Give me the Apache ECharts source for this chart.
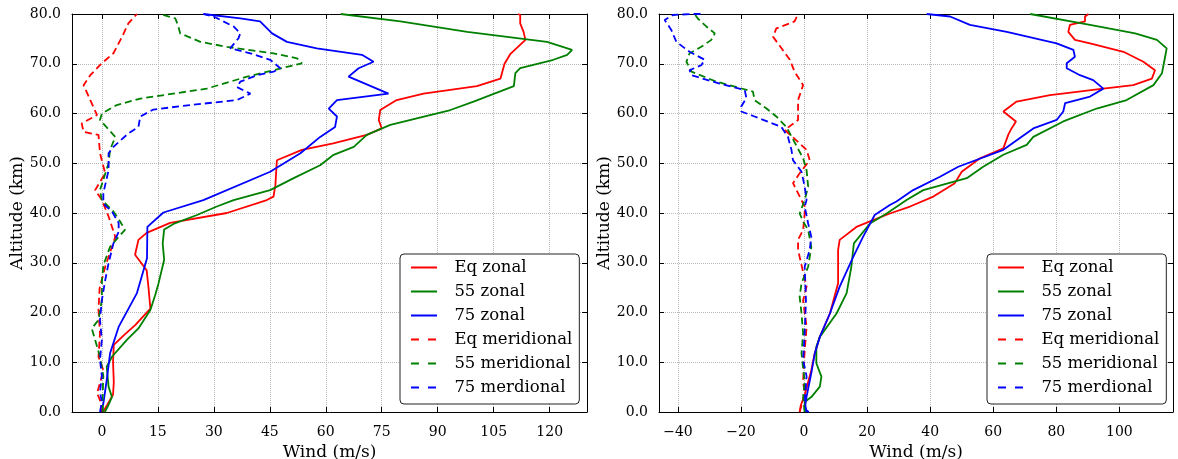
<!DOCTYPE html>
<html><head><meta charset="utf-8">
<script src="https://cdn.jsdelivr.net/npm/echarts@6/dist/echarts.min.js"></script>
<style>html,body{margin:0;padding:0;background:#fff}#c{width:1178px;height:459px}</style>
</head><body><div id="c"></div>
<script>
// ---------- data (wind m/s, altitude km) ----------
const seriesNames = ['Eq zonal', '55 zonal', '75 zonal', 'Eq meridional', '55 meridional', '75 merdional'];
const altTicks = [0, 10, 20, 30, 40, 50, 60, 70, 80];
const leftWindTicks = [0, 15, 30, 45, 60, 75, 90, 105, 120];
const rightWindTicks = [-40, -20, 0, 20, 40, 60, 80, 100];

// left panel
const L_eqZonal = [[0.3,0],[1.5,1.5],[3.0,3.5],[3.2,6],[3.0,10],[3.2,13.5],[6,15.5],[9,17.5],[13,20.8],[12.5,25],[12,28.5],[8.9,31.6],[9.8,34.6],[12,36],[18.3,38],[33.5,40],[44.2,42.6],[46,43.3],[46.5,45.6],[46.9,50.6],[53.6,52.7],[62,54],[71,55.7],[75,57],[74.2,58.7],[74.6,60.7],[79,62.7],[86.2,64],[100.5,65.5],[106.8,67],[107.9,70],[109.5,72],[113.5,74.8],[113,76.4],[112.1,78.1],[112.1,79.8],[111.5,80]];
const L_55Zonal = [[0.8,0],[1.5,1],[2.7,3],[1.8,5.1],[1.3,9.1],[2.7,11.1],[6.7,14.5],[9.8,16.8],[13,20.5],[14.3,23.5],[15.2,25.9],[16.7,30.6],[16.3,33.9],[16.7,36.7],[19.2,37.8],[25.5,39.6],[30.8,41.3],[35.3,42.6],[45.1,44.6],[51.4,47],[58.5,49.6],[62.1,51.7],[67.5,53.3],[71,55.7],[77.3,57.7],[93.4,60.7],[99.6,62.4],[110.4,65.5],[110.8,68.1],[112.1,69.1],[121,70.8],[124.7,71.8],[126,72.8],[119.3,74.4],[97.9,76.4],[80,78.5],[64,80]];
const L_75Zonal = [[-0.2,0],[0.4,1.7],[1.3,6.4],[2.2,11.8],[4.5,17.1],[9.4,23.9],[12.1,30.9],[12.2,37.2],[16.5,40.1],[27.2,42.6],[45.1,48.3],[53.2,52],[58.5,55.3],[62.5,57.3],[63,59.4],[60.8,61],[63,62.7],[76.8,64],[66.1,67.4],[68.8,69.1],[72.8,70.4],[69.7,71.8],[57.6,73.1],[49.6,74.4],[45.6,76.1],[42.4,78.5],[37.1,79.1],[27.2,80]];
const L_eqMerid = [[0.2,0],[-0.5,2.4],[-1.3,3.8],[-0.5,5.8],[0.4,8.4],[-0.9,11.1],[-0.5,15.8],[-0.9,20.5],[-0.6,24.9],[0.9,29.2],[3.6,35.2],[1.8,39.3],[0,42.6],[-1.8,44.6],[0.9,48],[-0.5,52],[-0.9,55.7],[-4.9,56.3],[-5.4,58],[-1.3,59.7],[-3.1,62.7],[-4.9,65.7],[-3.1,67.7],[0,70.1],[3.1,72.1],[5.4,75.4],[7.1,78.1],[9.4,80]];
const L_55Merid = [[0.3,0],[0.2,3],[0.4,7.2],[-0.5,11.1],[-1.8,14.5],[-2.7,16.8],[-0.9,18.5],[0,22.5],[0,26.2],[0.4,29.5],[2.2,33.2],[4.5,35.2],[6.2,36.6],[4.9,38.3],[3.1,40.3],[0,42.6],[-0.5,44.6],[1.8,50],[2.2,52.7],[3.6,55.3],[-0.5,58.7],[0,60],[4,61.7],[10.3,63],[28.1,65],[38.9,67.4],[46,68.7],[53.6,70.1],[52.3,71.1],[46,72.1],[33.5,73.4],[26.4,74.4],[21,76.1],[20.5,77.5],[19.7,79.1],[15.6,80]];
const L_75Merid = [[-0.5,0],[0,2],[-0.5,4],[0,7.2],[-0.5,10.5],[0,14.5],[-0.5,18.5],[0,22.5],[0.9,26.5],[1.8,29.9],[3.1,33.9],[4.5,36.2],[4.5,38],[2.7,40.3],[0.9,41.5],[0.4,42.6],[0.4,44],[1.8,48.6],[1.8,52],[3.1,53.3],[7.1,56],[9.8,57.3],[10.3,59.4],[13.8,60.8],[23.7,61.7],[36.2,62.7],[39.8,64],[36.2,65.3],[37.1,66.4],[41.6,67.7],[46,68.4],[47.8,69.1],[45.1,70.8],[39.8,72.1],[34.4,73.1],[36.6,75.1],[37.1,76.1],[35.3,77.5],[29.9,79.5],[27.2,80]];

// right panel
const R_eqZonal = [[-1.4,0],[-1,1.4],[0.2,3.4],[2.3,8.4],[3.4,11.8],[5,15.1],[8.2,19.8],[10.8,25.9],[10.8,32.6],[11.3,34.6],[16.6,37.2],[20.9,38.3],[27.2,39.9],[33.6,41.3],[41,43.3],[47.8,46],[50,48.3],[55.8,51],[63.2,53],[64.8,55.8],[65.8,57],[67.2,58.4],[63.2,60.4],[67.4,62.4],[78,63.7],[94.9,65],[104.4,65.7],[110.3,67],[111.3,68.7],[107.6,70.4],[101.3,72.4],[90.7,74.1],[85.9,74.8],[83.8,76.4],[84.3,77.8],[89.1,78.5],[89.1,79.5],[90.2,80]];
const R_55Zonal = [[0.2,0],[0.2,2],[2.3,3],[5,5.1],[5.5,7.1],[3.9,9.8],[3.9,13.1],[5,15.1],[10.3,19.8],[13.5,23.9],[15,29.2],[15.8,33.9],[20.9,37.9],[26.2,39.9],[32.5,42.6],[37.8,44.6],[51.6,47],[56.8,49.3],[63.2,51.7],[70.6,53.7],[72.7,55.3],[82.2,58.4],[92.8,61],[102.3,62.7],[110.8,65.7],[113.5,68.1],[114.5,71.4],[115,73.1],[111.9,74.8],[105,76.1],[90.7,77.8],[71.7,80]];
const R_75Zonal = [[1.5,0],[0.2,0.6],[0.8,3.1],[2.3,7.8],[3.4,11.8],[5,15.1],[8.2,19.8],[11.3,25.2],[15.6,31.2],[18.7,35.2],[22.4,39.6],[27.2,41.6],[29.3,42.3],[34.6,44.6],[43.1,47.3],[48.9,49.3],[63.2,52.7],[72.7,57],[80.1,58.7],[82.2,60.4],[82.8,62.1],[90.7,63.4],[94.9,65],[91.7,66.7],[87.5,67.7],[83.3,69.1],[83.3,70.1],[85.9,71.4],[85.4,72.8],[80.1,74.1],[64.3,76.4],[52.6,77.8],[46.3,79.5],[38.9,80]];
const R_eqMerid = [[-1.4,0],[0.2,3.6],[-0.3,6.2],[0.2,12.3],[0.8,17.1],[-0.3,22.4],[0.8,25.2],[-0.3,28.1],[-1.9,32.6],[-1.9,34.6],[-0.3,36.6],[0.2,39.9],[0.2,41.3],[-3.5,46],[-1.4,48],[1.8,50.6],[0.8,52.7],[-6.1,56.7],[-1.9,58.7],[-1.9,62.7],[-0.3,65.7],[-3,68.4],[-4.5,70.8],[-8.3,74.1],[-9.8,75.4],[-8.8,77.1],[-3,78.5],[-1.9,80]];
const R_55Merid = [[0.2,0],[-0.3,3],[0.2,6.2],[-0.3,8.8],[-0.8,11.8],[-0.3,15.8],[-0.8,19.8],[-1.4,23.2],[-0.8,25.9],[1.3,29.2],[2.3,33.2],[1.3,36.6],[-0.3,38.3],[-1.4,39.9],[0.2,42.6],[1.3,45.3],[0.8,48.6],[-0.3,51],[-4.5,56],[-5.6,57.3],[-8.8,59.4],[-11.9,61],[-15.7,62.7],[-16.2,64.4],[-27.8,66.4],[-35.7,68.4],[-37.3,70.4],[-36.3,72.1],[-32.6,73.4],[-29.4,74.8],[-28.3,76.1],[-31,77.5],[-33.7,79.1],[-34.7,80]];
const R_75Merid = [[0.8,0],[0.2,2],[0.8,7.2],[-0.3,10.5],[0.2,15.8],[0.6,22.5],[0.2,29.2],[1.8,32.6],[2.3,35.2],[1.3,37.9],[0.2,41.3],[0.8,42.6],[0.2,45.3],[-0.8,48.3],[-3.5,50.6],[-4,52.7],[-5.1,55.3],[-7.2,57.3],[-15.7,59.4],[-19.9,60.4],[-19.9,61.4],[-18.3,63.1],[-18.8,64.7],[-26.8,66],[-35.7,67.7],[-36.3,68.7],[-32.6,69.7],[-31.5,70.8],[-36.3,72.4],[-40.5,74.4],[-42.1,76.8],[-44.2,78.8],[-41.6,79.8],[-35.2,80],[-32,80]];

// ---------- chart ----------
const FONT = 'DejaVu Serif';
const colors = ['#ff0000', '#008000', '#0000ff', '#ff0000', '#008000', '#0000ff'];
const dashed = [false, false, false, true, true, true];
const panels = [
  { data: [L_eqZonal, L_55Zonal, L_75Zonal, L_eqMerid, L_55Merid, L_75Merid], xmin: -8, xmax: 130, xticks: leftWindTicks, grid: { left: 72, top: 14, width: 515, height: 398 }, legendLeft: 400 },
  { data: [R_eqZonal, R_55Zonal, R_75Zonal, R_eqMerid, R_55Merid, R_75Merid], xmin: -46, xmax: 117, xticks: rightWindTicks, grid: { left: 659, top: 14, width: 514, height: 398 }, legendLeft: 987 }
];
const fmtX = v => (v < 0 ? '\u2212' + Math.abs(v) : String(v));
const axisLine = { show: true, onZero: false, lineStyle: { color: '#000', width: 1 } };
const gridLine = { show: true, lineStyle: { color: '#b8b8b8', type: 'dotted', width: 1 } };
const tick = (vals) => ({ show: true, inside: true, length: 5, customValues: vals, lineStyle: { color: '#000' } });
const legendData = seriesNames.map((n, i) => ({
  name: n, lineStyle: { width: 2, type: dashed[i] ? [8, 9] : 'solid', color: colors[i] }
}));
const grids = [], xAxes = [], yAxes = [], series = [], legends = [];
panels.forEach((p, pi) => {
  grids.push(Object.assign({ containLabel: false, outerBoundsMode: 'none', show: false }, p.grid));
  xAxes.push({
    type: 'value', gridIndex: pi, position: 'bottom', min: p.xmin, max: p.xmax,
    axisLine, axisTick: tick(p.xticks),
    axisLabel: { customValues: p.xticks, formatter: fmtX, fontFamily: FONT, fontSize: 14, color: '#000', margin: 13 },
    splitLine: gridLine,
    name: 'Wind (m/s)', nameLocation: 'middle', nameGap: 31,
    nameTextStyle: { fontFamily: FONT, fontSize: 17, color: '#000' }
  });
  xAxes.push({
    type: 'value', gridIndex: pi, position: 'top', min: p.xmin, max: p.xmax,
    axisLine, axisTick: tick(p.xticks), axisLabel: { show: false }, splitLine: { show: false }
  });
  yAxes.push({
    type: 'value', gridIndex: pi, position: 'left', min: 0, max: 80,
    axisLine, axisTick: tick(altTicks),
    axisLabel: { customValues: altTicks, formatter: v => v.toFixed(1), fontFamily: FONT, fontSize: 14, color: '#000', margin: 11 },
    splitLine: gridLine,
    name: 'Altitude (km)', nameLocation: 'middle', nameGap: 46,
    nameTextStyle: { fontFamily: FONT, fontSize: 17, color: '#000' }
  });
  yAxes.push({
    type: 'value', gridIndex: pi, position: 'right', min: 0, max: 80,
    axisLine, axisTick: tick(altTicks), axisLabel: { show: false }, splitLine: { show: false }
  });
  p.data.forEach((d, si) => {
    series.push({
      type: 'line', name: seriesNames[si], xAxisIndex: 2 * pi, yAxisIndex: 2 * pi,
      data: d, symbol: 'none', showSymbol: false, color: colors[si], clip: true,
      lineStyle: { color: colors[si], width: 1.8, type: dashed[si] ? [7, 4] : 'solid' }
    });
  });
  legends.push({
    orient: 'vertical', left: p.legendLeft, top: 254, data: legendData,
    itemWidth: 26, itemHeight: 18, itemGap: 7, padding: [5, 7, 8, 10],
    borderColor: '#222', borderWidth: 1, borderRadius: 4, backgroundColor: '#fff',
    selectedMode: false,
    itemStyle: { opacity: 0 },
    formatter: n => '\u2002\u2005' + n,
    textStyle: { fontFamily: FONT, fontSize: 16.5, color: '#000' }
  });
});

const chart = echarts.init(document.getElementById('c'), null, { renderer: 'canvas' });
chart.setOption({
  animation: false, backgroundColor: '#fff',
  grid: grids, xAxis: xAxes, yAxis: yAxes, series, legend: legends
});
</script></body></html>
